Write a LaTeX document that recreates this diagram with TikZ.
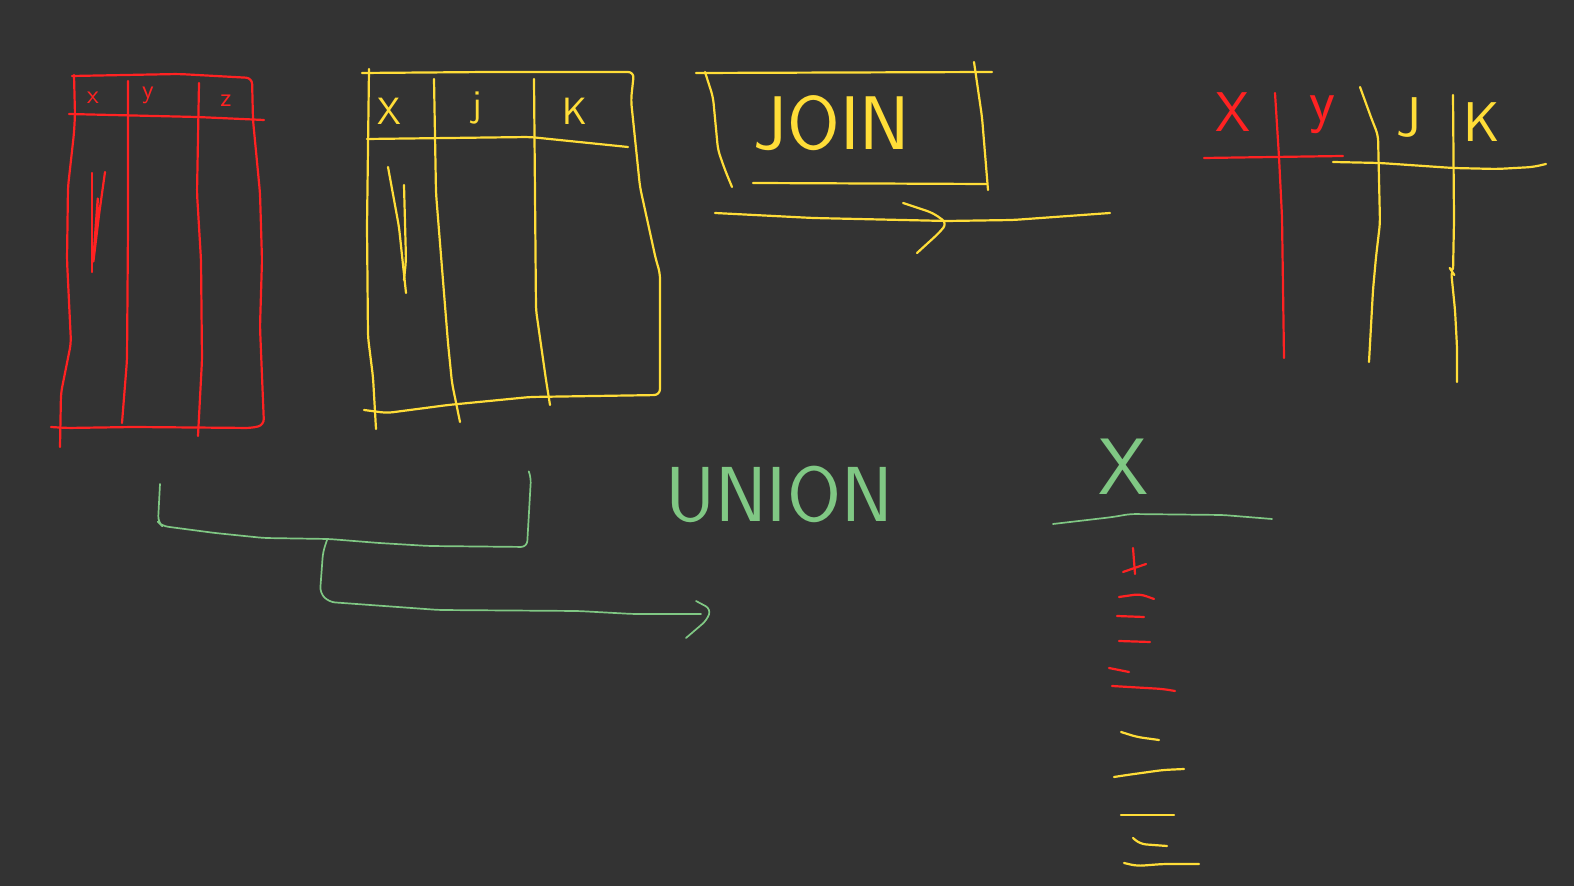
\documentclass[tikz,border=0pt]{standalone}
\usetikzlibrary{positioning}
\definecolor{board}{HTML}{333333}
\definecolor{penred}{HTML}{FF2222}
\definecolor{penyellow}{HTML}{FFDD38}
\definecolor{pengreen}{HTML}{80C884}
\tikzset{
  redpen/.style={draw=penred, line width=1.1pt, line cap=round, line join=round, rounded corners=3pt},
  yellowpen/.style={draw=penyellow, line width=1.1pt, line cap=round, line join=round, rounded corners=3pt},
  greenpen/.style={draw=pengreen, line width=0.85pt, line cap=round, line join=round, rounded corners=3pt},
  hand/.style={inner sep=0pt, font=\sffamily\fontsize{#1}{#1}\selectfont},
}

\begin{document}
\begin{tikzpicture}[x=0.5pt,y=-0.5pt]
  \fill[board] (0,0) rectangle (1574,886);
  \useasboundingbox (0,0) rectangle (1574,886);

  % first table
  \begin{scope}[redpen]
    \draw (72,76) -- (179,74) -- (252,78) -- (253,120) -- (260,193) -- (262,260) -- (260,327) -- (264,425) -- (252,428) -- (134,427) -- (67,428) -- (51,427);
    \draw (74,75) -- (75,115) -- (74,133) -- (68,187) -- (67,260) -- (71,343) -- (61,393) -- (60,447);
    \draw (69,114) -- (197,117) -- (264,120);
    \draw (128,81) -- (128,227) -- (127,360) -- (122,423);
    \draw (199,83) -- (197,193) -- (201,260) -- (202,360) -- (198,436);
    \draw (92,173) -- (92,272);
    \draw (105,172) -- (99,215) -- (93,265) -- (96,222) -- (98,195) -- (96,240);
  \end{scope}
  \node (rx) [hand=13pt, text=penred] at (93,98) {x};
  \node (ry) [hand=13pt, text=penred] at (148,95) {y};
  \node (rz) [hand=13pt, text=penred] at (226,101) {z};

  % second table
  \begin{scope}[yellowpen]
    \draw (362,73) -- (489,72) -- (634,72) -- (631,100) -- (640,187) -- (656,260) -- (660,273) -- (660,395) -- (530,397) -- (448,405) -- (387,413) -- (364,410);
    \draw (369,69) -- (367,227) -- (368,337) -- (373,377) -- (376,429);
    \draw (367,139) -- (530,137) -- (628,147);
    \draw (434,79) -- (436,193) -- (448,343) -- (452,383) -- (460,422);
    \draw (534,79) -- (536,310) -- (546,380) -- (550,405);
    \draw (388,167) -- (399,227) -- (406,293);
    \draw (404,185) -- (406,260) -- (404,280);
  \end{scope}
  \node (yx) [hand=19pt, text=penyellow] at (389,111) {X};
  \node (yj) [hand=19pt, text=penyellow] at (477,108) {j};
  \node (yk) [hand=19pt, text=penyellow] at (575,111) {K};

  % join
  \begin{scope}[yellowpen]
    \draw (696,73) -- (992,72);
    \draw (705,72) -- (713,97) -- (718,150) -- (725,170) -- (732,187);
    \draw (974,62) -- (982,117) -- (988,190);
    \draw (753,183) -- (987,184);
    \draw (715,213) -- (813,218) -- (947,221) -- (1013,220) -- (1110,213);
    \draw (903,203) -- (933,213) -- (947,223) -- (940,232) -- (917,253);
  \end{scope}
  \node (join) [hand=38pt, text=penyellow] at (832,123) {JOIN};

  % joined result
  \begin{scope}[redpen]
    \draw (1275,93) -- (1279,157) -- (1282,217) -- (1284,358);
    \draw (1204,158) -- (1343,156);
  \end{scope}
  \begin{scope}[yellowpen]
    \draw (1360,87) -- (1372,120) -- (1378,135) -- (1380,223) -- (1376,257) -- (1373,290) -- (1369,362);
    \draw (1333,162) -- (1380,163) -- (1453,168) -- (1497,169) -- (1533,167) -- (1546,164);
    \draw (1453,95) -- (1454,220) -- (1453,273) -- (1451,270) -- (1455,310) -- (1457,347) -- (1457,382);
  \end{scope}
  \node (jx) [hand=28pt, text=penred] at (1233,112) {X};
  \node (jy) [hand=30pt, text=penred] at (1322,115) {y};
  \node (jj) [hand=28pt, text=penyellow] at (1409,118) {J};
  \node (jk) [hand=28pt, text=penyellow] at (1482,122) {K};

  % union
  \begin{scope}[greenpen]
    \draw (160,484) -- (158,522) -- (162,526) -- (215,533) -- (264,538) -- (329,539) -- (379,543) -- (429,546) -- (527,547) -- (531,477) -- (529,472);
    \draw (327,540) -- (323,552) -- (320,593) -- (329,602) -- (439,610) -- (578,611) -- (633,614) -- (701,614);
    \draw (696,601) -- (711,609) -- (707,620) -- (686,638);
  \end{scope}
  \node (union) [hand=39pt, text=pengreen] at (779,494) {UNION};

  % union result
  \node (ux) [hand=40pt, text=pengreen] at (1123,467) {X};
  \draw[greenpen] (1053,524) -- (1113,517) -- (1130,514) -- (1223,515) -- (1272,519);
  \begin{scope}[redpen]
    \draw (1133,548) -- (1135,574);
    \draw (1123,572) -- (1146,564);
    \draw (1119,597) -- (1140,594) -- (1154,599);
    \draw (1117,616) -- (1144,617);
    \draw (1119,641) -- (1150,642);
    \draw (1109,668) -- (1129,672);
    \draw (1112,686) -- (1163,689) -- (1175,691);
  \end{scope}
  \begin{scope}[yellowpen]
    \draw (1121,732) -- (1137,737) -- (1159,740);
    \draw (1114,777) -- (1127,775) -- (1163,770) -- (1184,769);
    \draw (1121,815) -- (1174,815);
    \draw (1133,838) -- (1140,844) -- (1167,846);
    \draw (1124,863) -- (1137,866) -- (1163,864) -- (1199,864);
  \end{scope}
\end{tikzpicture}
\end{document}
